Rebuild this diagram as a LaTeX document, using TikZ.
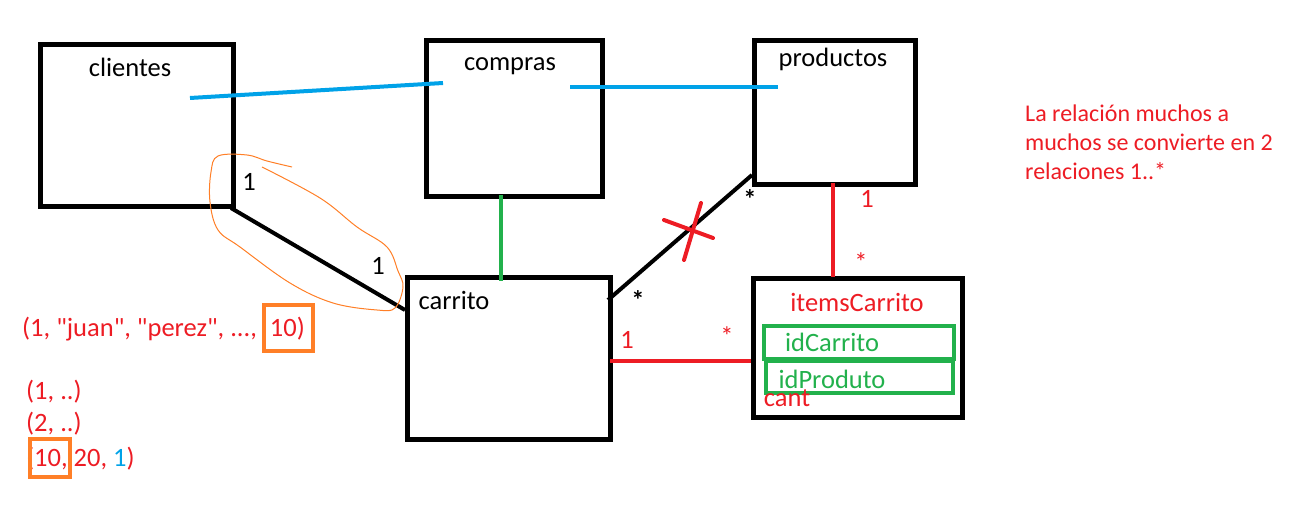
\documentclass[tikz,border=0pt]{standalone}
\usepackage{fontspec}
\setmainfont{Carlito}
\newfontfamily\plainfont{Carlito}[Ligatures=ResetAll]
\definecolor{pred}{RGB}{237,28,36}
\definecolor{pblue}{RGB}{0,162,232}
\definecolor{pgreen}{RGB}{34,177,76}
\definecolor{porange}{RGB}{255,127,39}
\begin{document}
\begin{tikzpicture}[x=1pt,y=-1pt,
  entity/.style={draw=black,line width=5pt,anchor=north west,inner sep=0pt},
  txt/.style={font=\fontsize{26.5}{31}\selectfont,anchor=base,inner sep=0pt},
  txtl/.style={txt,anchor=base west},
  ptxt/.style={font=\fontsize{24}{29}\selectfont,anchor=base west,inner sep=0pt,text=pred},
  rel/.style={line width=4pt},
  hl/.style={draw=porange,line width=4pt,inner sep=0pt,anchor=north west},
  fk/.style={draw=pgreen,line width=4pt,inner sep=0pt,anchor=north west}]
\useasboundingbox (0,0) rectangle (1314,521);
% entity boxes
\node[entity,minimum width=193pt,minimum height=162pt] (cli) at (38,42) {};
\node[entity,minimum width=176pt,minimum height=156pt] (com) at (424,38) {};
\node[entity,minimum width=161pt,minimum height=144pt] (pro) at (752,38) {};
\node[entity,minimum width=203pt,minimum height=162pt] (car) at (405,275) {};
\node[entity,minimum width=209pt,minimum height=139pt] (ite) at (751,276) {};
% titles
\node[txt] (tcli) at (130,77) {clientes};
\node[txt] (tcom) at (510,71) {compras};
\node[txt] (tpro) at (833,67) {productos};
\node[txt] (tcar) at (454,309) {carrito};
\node[txt,text=pred] (tite) at (857,312) {itemsCarrito};
% green key boxes
\node[fk,minimum width=190pt,minimum height=33pt] (k1) at (762,324) {};
\node[fk,minimum width=187pt,minimum height=32pt] (k2) at (764,359) {};
\node[txt,text=pgreen] (tk1) at (832,351) {idCarrito};
\node[txt,text=pgreen] (tk2) at (832,388) {idProduto};
\node[txt,text=pred] (tcant) at (787,406) {cant};
% connector end points
\coordinate (b1a) at (190,98); \coordinate (b1b) at (443,83);
\coordinate (b2a) at (570,87); \coordinate (b2b) at (778,87);
\coordinate (g1a) at (501,195); \coordinate (g1b) at (501,281);
\coordinate (k1a) at (231,208); \coordinate (k1b) at (405,310);
\coordinate (k2a) at (608,300); \coordinate (k2b) at (752,175);
\coordinate (r1a) at (833,183); \coordinate (r1b) at (833,277);
\coordinate (r2a) at (610,361); \coordinate (r2b) at (751,361);
\draw[rel,pblue] (b1a) -- (b1b);
\draw[rel,pblue] (b2a) -- (b2b);
\draw[rel,pgreen] (g1a) -- (g1b);
\draw[rel,black] (k1a) -- (k1b);
\draw[rel,black] (k2a) -- (k2b);
\draw[rel,pred] (r1a) -- (r1b);
\draw[rel,pred] (r2a) -- (r2b);
% red cross
\coordinate (x1a) at (664,220); \coordinate (x1b) at (713,238);
\coordinate (x2a) at (701,203); \coordinate (x2b) at (684,260);
\draw[rel,pred,line cap=round] (x1a) -- (x1b);
\draw[rel,pred,line cap=round] (x2a) -- (x2b);
% multiplicities
\node[txt] (m1) at (249,191) {1};
\node[txt] (m2) at (378,275) {1};
\node[txt] (m3) at (750,209) {\textbf{*}};
\node[txt] (m4) at (638,309) {\textbf{*}};
\node[txt,text=pred] (m5) at (867,208) {1};
\node[txt,text=pred] (m6) at (861,272) {*};
\node[txt,text=pred] (m7) at (627,348) {1};
\node[txt,text=pred] (m8) at (727,345) {*};
% orange hand-drawn loop
\draw[porange,line width=1pt] plot[smooth,tension=0.6] coordinates {(292,167) (267,161) (247,155) (218,156) (211,172) (210,202) (218,230) (240,247) (290,283) (333,303) (377,310) (395,308) (403,287) (398,271) (387,247) (357,227) (320,198) (262,167)};
% left notes
\node[txtl,text=pred,font=\plainfont\fontsize{26.5}{31}\selectfont] (n1) at (22,336) {(1, "juan", "perez", ...,\hspace{7pt} 10)};
\node[hl,minimum width=49pt,minimum height=46pt] (h1) at (262,303) {};
\node[txtl,text=pred] (n2) at (26,399) {(1, ..)};
\node[txtl,text=pred] (n3) at (26,431) {(2, ..)};
\node[txtl,text=pred] (n4) at (26,466) {(10, 20, \textcolor{pblue}{1})};
\node[hl,minimum width=40pt,minimum height=38pt] (h2) at (28,437) {};
% note
\node[ptxt] (p1) at (1025,122) {La relación muchos a};
\node[ptxt] (p2) at (1025,151) {muchos se convierte en 2};
\node[ptxt] (p3) at (1025,180) {relaciones 1..*};
\end{tikzpicture}
\end{document}
